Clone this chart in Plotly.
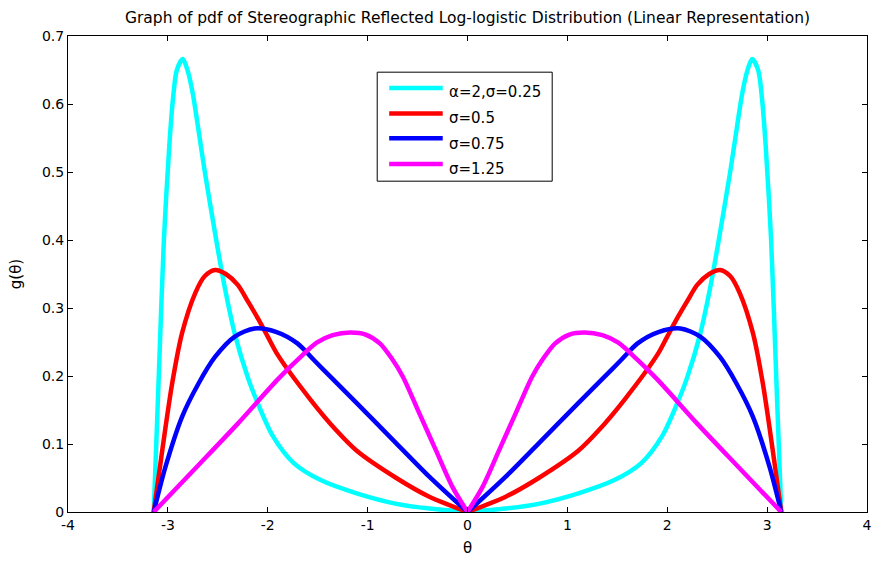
import plotly.graph_objects as go

# ---- data (theta, g(theta)) ----
cyan_theta = [-3.1416, -3.09, -3.04, -2.985, -2.95, -2.91, -2.85, -2.80, -2.75, -2.70, -2.63, -2.51, -2.43,
              -2.33, -2.20, -2.10, -1.95, -1.74, -1.47, -1.11, -0.71, -0.38, 0.0,
              0.38, 0.71, 1.11, 1.47, 1.74, 1.95, 2.10, 2.20, 2.33, 2.43, 2.51, 2.63, 2.70, 2.75, 2.80, 2.85,
              2.91, 2.95, 2.985, 3.04, 3.09, 3.1416]
cyan_g = [0.0, 0.204, 0.40, 0.54, 0.606, 0.65, 0.666, 0.648, 0.615, 0.568, 0.50, 0.395, 0.330,
          0.262, 0.198, 0.160, 0.112, 0.072, 0.047, 0.0275, 0.012, 0.005, 0.0,
          0.005, 0.012, 0.0275, 0.047, 0.072, 0.112, 0.160, 0.198, 0.262, 0.330, 0.395, 0.50, 0.568, 0.615,
          0.648, 0.666, 0.65, 0.606, 0.54, 0.40, 0.204, 0.0]

red_theta = [-3.1416, -3.056, -2.957, -2.858, -2.726, -2.63, -2.528, -2.42, -2.30, -2.20, -2.10, -2.00,
             -1.90, -1.571, -1.307, -1.109, -0.713, -0.383, 0.0,
             0.383, 0.713, 1.109, 1.307, 1.571, 1.90, 2.00, 2.10, 2.20, 2.30, 2.42, 2.528, 2.63, 2.726,
             2.858, 2.957, 3.056, 3.1416]
red_g = [0.0, 0.091, 0.189, 0.263, 0.322, 0.347, 0.356, 0.350, 0.334, 0.310, 0.285, 0.258,
         0.231, 0.165, 0.119, 0.090, 0.050, 0.0225, 0.0,
         0.0225, 0.050, 0.090, 0.119, 0.165, 0.231, 0.258, 0.285, 0.310, 0.334, 0.350, 0.356, 0.347, 0.322,
         0.263, 0.189, 0.091, 0.0]

blue_theta = [-3.1416, -3.023, -2.858, -2.693, -2.528, -2.330, -2.132, -1.918, -1.703, -1.538, -1.373,
              -1.109, -0.713, -0.383, 0.0,
              0.383, 0.713, 1.109, 1.373, 1.538, 1.703, 1.918, 2.132, 2.330, 2.528, 2.693, 2.858,
              3.023, 3.1416]
blue_g = [0.0, 0.067, 0.140, 0.189, 0.228, 0.258, 0.270, 0.265, 0.248, 0.2235, 0.199,
          0.160, 0.101, 0.052, 0.0,
          0.052, 0.101, 0.160, 0.199, 0.2235, 0.248, 0.265, 0.270, 0.258, 0.228, 0.189, 0.140,
          0.067, 0.0]

mag_theta = [-3.1416, -2.70, -2.30, -1.90, -1.70, -1.51, -1.35, -1.175, -1.02, -0.878, -0.76, -0.647,
             -0.482, -0.317, -0.151, 0.0,
             0.151, 0.317, 0.482, 0.647, 0.76, 0.878, 1.02, 1.175, 1.35, 1.51, 1.70, 1.90, 2.30,
             2.70, 3.1416]
mag_g = [0.0, 0.068, 0.130, 0.195, 0.224, 0.249, 0.260, 0.264, 0.261, 0.248, 0.226, 0.199,
         0.145, 0.091, 0.037, 0.0,
         0.037, 0.091, 0.145, 0.199, 0.226, 0.248, 0.261, 0.264, 0.260, 0.249, 0.224, 0.195, 0.130,
         0.068, 0.0]

series_names = ["\u03b1=2,\u03c3=0.25", "\u03c3=0.5", "\u03c3=0.75", "\u03c3=1.25"]
series_colors = ["#00FFFF", "#FF0000", "#0000FF", "#FF00FF"]
x_ticks = [-4, -3, -2, -1, 0, 1, 2, 3, 4]
y_ticks = [0, 0.1, 0.2, 0.3, 0.4, 0.5, 0.6, 0.7]

FONT = "DejaVu Sans, Arial, sans-serif"

fig = go.Figure()
all_series = [(cyan_theta, cyan_g), (red_theta, red_g), (blue_theta, blue_g), (mag_theta, mag_g)]
for (th, gv), name, col in zip(all_series, series_names, series_colors):
    # split at theta = 0 so the cusp stays sharp while each half is smoothed
    i0 = th.index(0.0)
    for part in (slice(0, i0 + 1), slice(i0, len(th))):
        fig.add_trace(go.Scatter(x=th[part], y=gv[part], mode="lines", name=name,
                                 line=dict(color=col, width=4.5, shape="spline", smoothing=0.8),
                                 showlegend=False, hoverinfo="skip"))

# manual MATLAB-style legend (plot area spans 68..872 px horizontally, 36..512 px vertically)
L_x0, L_x1, L_y0, L_y1 = 0.387, 0.606, 0.695, 0.924
fig.add_shape(type="rect", xref="paper", yref="paper", x0=L_x0, x1=L_x1, y0=L_y0, y1=L_y1,
              line=dict(color="black", width=1), fillcolor="white", layer="above")
line_ys = [0.891, 0.837, 0.785, 0.731]
text_ys = [0.882, 0.828, 0.773, 0.720]
for name, col, ly, ty in zip(series_names, series_colors, line_ys, text_ys):
    fig.add_shape(type="line", xref="paper", yref="paper", x0=0.402, x1=0.469, y0=ly, y1=ly,
                  line=dict(color=col, width=4.5), layer="above")
    fig.add_annotation(xref="paper", yref="paper", x=0.474, y=ty, text=name, showarrow=False,
                       xanchor="left", yanchor="middle", font=dict(family=FONT, size=15, color="black"))

axis_common = dict(showline=True, linecolor="black", linewidth=1, mirror="allticks",
                   ticks="inside", ticklen=5, tickcolor="black", showgrid=False, zeroline=False,
                   ticklabeloverflow="allow",
                   tickfont=dict(family=FONT, size=14, color="black"))

fig.update_layout(
    width=877, height=562,
    margin=dict(l=68, r=5, t=36, b=50),
    paper_bgcolor="white", plot_bgcolor="white",
    title=dict(text="Graph of pdf of Stereographic Reflected Log-logistic Distribution (Linear Representation)",
               x=0.5, xanchor="center", xref="paper", y=0.968, yref="container", yanchor="middle",
               font=dict(family=FONT, size=15.5, color="black")),
    xaxis=dict(range=[-4, 4], tickvals=x_ticks, ticktext=[str(v) for v in x_ticks],
               title=dict(text="\u03b8", font=dict(family=FONT, size=15, color="black"), standoff=10),
               **axis_common),
    yaxis=dict(range=[0, 0.7], tickvals=y_ticks, ticktext=["0"] + [f"{v:.1f}" for v in y_ticks[1:]],
               title=dict(text="g(\u03b8)", font=dict(family=FONT, size=15, color="black"), standoff=16),
               **axis_common),
    showlegend=False,
)

fig.write_html("out.html", config={"displayModeBar": False},
               post_script="document.body.style.margin='0';document.body.style.overflow='hidden';")
